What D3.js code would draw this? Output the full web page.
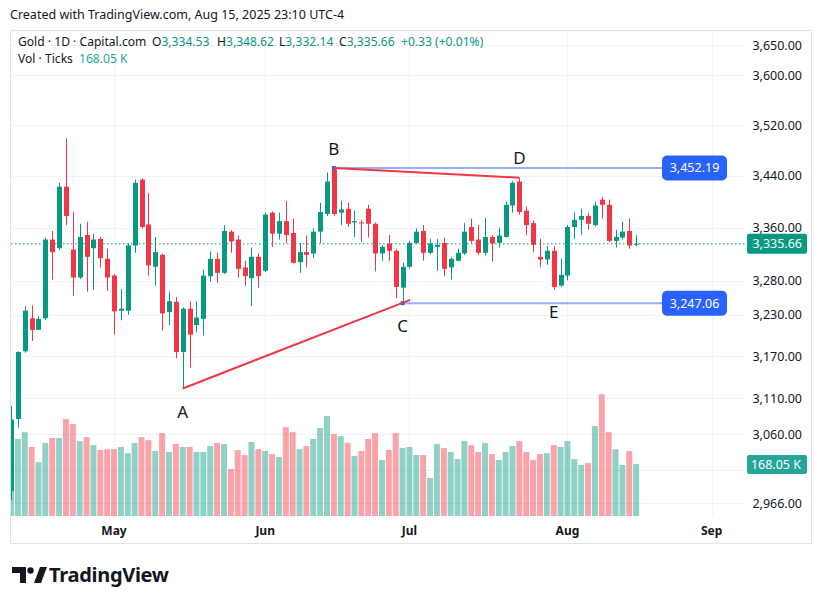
<!DOCTYPE html>
<html><head><meta charset="utf-8">
<script src="https://cdn.jsdelivr.net/npm/d3@7"></script>
<style>body{margin:0;background:#fff;font-family:"Noto Sans",sans-serif}</style>
</head><body><svg id="c" width="822" height="604"></svg>
<script>
const open  = [2982,3081,3177,3225,3208,3225,3342,3329,3423,3327,3285,3349,3329,3343,3313,3288,3236,3236,3333,3434,3365,3301,3319,3234,3249,3176,3239,3215,3224,3287,3313,3292,3354,3342,3300,3284,3316,3295,3383,3351,3370,3352,3308,3323,3321,3354,3381,3450,3383,3389,3368,3368,3389,3366,3321,3336,3325,3270,3301,3337,3355,3322,3331,3337,3300,3310,3321,3361,3342,3322,3346,3337,3346,3394,3431,3386,3367,3316,3312,3325,3273,3288,3361,3372,3378,3364,3403,3395,3340,3345,3355,3334.53];
const high  = [3099,3177,3243,3244,3228,3345,3355,3429,3499,3384,3366,3369,3351,3346,3328,3290,3268,3336,3434,3436,3413,3346,3321,3264,3256,3241,3250,3250,3297,3324,3322,3364,3356,3348,3310,3330,3321,3383,3385,3383,3401,3374,3337,3348,3359,3398,3445,3452.19,3401,3398,3386,3372,3395,3368,3334,3349,3327,3307,3340,3359,3364,3343,3343,3345,3315,3328,3367,3374,3364,3375,3349,3360,3400,3432,3437,3392,3371,3343,3332,3332,3313,3364,3383,3389,3383,3400,3407,3403,3357,3369,3374,3348.62];
const low   = [2970,3069,3175,3192,3208,3222,3282,3326,3364,3258,3283,3264,3267,3300,3265,3201,3222,3230,3322,3359,3288,3273,3207,3215,3167,3124,3154,3205,3200,3279,3277,3290,3322,3285,3273,3243,3270,3293,3331,3342,3337,3306,3292,3300,3314,3337,3378,3378,3364,3361,3346,3339,3345,3294,3310,3310,3254,3247.06,3298,3335,3310,3320,3295,3287,3282,3309,3319,3337,3319,3318,3309,3330,3345,3383,3380,3349,3323,3300,3304,3267,3271,3281,3343,3349,3357,3362,3374,3338,3330,3342,3328,3332.14];
const close = [3080,3176,3236,3208,3224,3342,3323,3423,3378,3285,3346,3316,3342,3314,3285,3235,3239,3333,3429,3361,3303,3323,3232,3250,3176,3239,3201,3226,3288,3313,3292,3355,3339,3298,3287,3316,3287,3380,3351,3370,3349,3307,3323,3319,3354,3384,3431,3381,3388,3366,3370,3367,3366,3321,3331,3325,3271,3301,3337,3354,3322,3336,3334,3298,3313,3322,3354,3340,3322,3346,3336,3348,3395,3429,3384,3364,3334,3312,3325,3271,3289,3361,3372,3378,3366,3394,3395,3340,3346,3354,3333,3335.66];
const volume = [313,249,271,223,174,236,252,252,313,297,242,255,229,213,216,216,223,203,236,255,245,210,268,207,233,223,223,207,207,226,236,233,152,213,197,239,216,210,200,191,287,271,216,226,249,284,323,265,258,236,194,210,249,268,181,213,268,220,223,197,197,123,233,220,207,184,242,229,207,236,200,181,207,226,242,207,181,200,203,229,223,242,184,165,171,291,394,271,216,165,210,168.05];
const priceTicks = [3650,3600,3520,3440,3360,3280,3230,3170,3110,3060,3010,2966];
const monthLabels = ["May","Jun","Jul","Aug","Sep"];
const monthIndex = [15,37,58,81,102];
const trendA_C = [[25,3124],[58.1,3252]];
const trendB_D = [[47,3452.19],[74,3437]];
const levels = [[47,3452.19],[57,3247.06]];
const pointLabels = [["A",25,3124,24],["B",47,3452.19,-13],["C",57,3247.06,23],["D",74,3437,-14],["E",79,3267,22]];

const UP="#089981", DN="#f23645";
const svg=d3.select("#c");
const x=d3.scaleLinear().domain([0,102]).range([11,711.7]);
const y=d3.scaleLog().domain([2966,3650]).range([503,45]);
const vy=d3.scaleLinear().domain([0,168.05]).range([516,464]);
const fmt=d3.format(",.2f");

svg.append("rect").attr("x",10.5).attr("y",30.5).attr("width",801).attr("height",513).attr("fill","none").attr("stroke","#e0e3eb");
svg.append("text").attr("x",10).attr("y",19).attr("font-size",12.5).attr("fill","#131722").text("Created with TradingView.com, Aug 15, 2025 23:10 UTC-4");

svg.append("defs").append("clipPath").attr("id","cp").append("rect").attr("x",11).attr("y",31).attr("width",734).attr("height",485);
const g=svg.append("g");
g.selectAll(".hg").data(priceTicks).join("line").attr("x1",11).attr("x2",745).attr("y1",d=>Math.round(y(d))+0.5).attr("y2",d=>Math.round(y(d))+0.5).attr("stroke","#f0f3fa");
g.selectAll(".vg").data(monthIndex).join("line").attr("x1",d=>Math.round(x(d))+0.5).attr("x2",d=>Math.round(x(d))+0.5).attr("y1",31).attr("y2",516).attr("stroke","#f0f3fa");

const c=svg.append("g").attr("clip-path","url(#cp)");
const idx=d3.range(open.length);
c.selectAll(".v").data(idx).join("rect").attr("x",i=>x(i)-3).attr("width",6).attr("y",i=>vy(volume[i])).attr("height",i=>516-vy(volume[i]))
 .attr("fill",i=>close[i]>=open[i]?"rgba(8,153,129,0.45)":"rgba(242,54,69,0.45)");
c.selectAll(".w").data(idx).join("line").attr("x1",i=>Math.round(x(i))+0.5).attr("x2",i=>Math.round(x(i))+0.5)
 .attr("y1",i=>y(high[i])).attr("y2",i=>y(low[i])).attr("stroke",i=>close[i]>=open[i]?UP:DN);
c.selectAll(".b").data(idx).join("rect").attr("x",i=>Math.round(x(i))-2).attr("width",5)
 .attr("y",i=>y(Math.max(open[i],close[i]))).attr("height",i=>Math.max(1,y(Math.min(open[i],close[i]))-y(Math.max(open[i],close[i]))))
 .attr("fill",i=>close[i]>=open[i]?UP:DN);

const last=close[close.length-1];
svg.append("line").attr("x1",11).attr("x2",745).attr("y1",y(last)).attr("y2",y(last)).attr("stroke",UP).attr("stroke-dasharray","1.5,2.5");

levels.forEach(([i,p])=>{
  svg.append("line").attr("x1",x(i)).attr("x2",662).attr("y1",y(p)).attr("y2",y(p)).attr("stroke","#2962ff").attr("stroke-opacity",0.5).attr("stroke-width",2);
  svg.append("rect").attr("x",x(i)-2).attr("y",y(p)-2).attr("width",4).attr("height",4).attr("fill","#2962ff");
  svg.append("rect").attr("x",662).attr("y",y(p)-12.5).attr("width",65).attr("height",25).attr("rx",5).attr("fill","#2962ff");
  svg.append("text").attr("x",694.5).attr("y",y(p)+4.5).attr("text-anchor","middle").attr("font-size",12.5).attr("fill","#fff").text(fmt(p));
});
[trendA_C,trendB_D].forEach(t=>{
  svg.append("line").attr("x1",x(t[0][0])).attr("y1",y(t[0][1])).attr("x2",x(t[1][0])).attr("y2",y(t[1][1])).attr("stroke",DN).attr("stroke-width",2);
});
pointLabels.forEach(([s,i,p,dy])=>{
  svg.append("text").attr("x",x(i)).attr("y",y(p)+dy+(dy>0?6:0)).attr("text-anchor","middle").attr("font-size",17).attr("fill","#131722").text(s);
});

svg.selectAll(".pt").data(priceTicks.filter(d=>d!==3010)).join("text").attr("x",802).attr("y",d=>y(d)+4.5).attr("text-anchor","end").attr("font-size",12.5).attr("fill","#131722").text(d=>fmt(d));
svg.append("rect").attr("x",747).attr("y",y(last)-10).attr("width",60).attr("height",20).attr("rx",2).attr("fill",UP);
svg.append("text").attr("x",802).attr("y",y(last)+4.5).attr("text-anchor","end").attr("font-size",12.5).attr("fill","#fff").text(fmt(last));
svg.append("rect").attr("x",747).attr("y",vy(volume[volume.length-1])-9).attr("width",60).attr("height",19).attr("rx",2).attr("fill","#26a69a");
svg.append("text").attr("x",801).attr("y",vy(volume[volume.length-1])+5).attr("text-anchor","end").attr("font-size",12.5).attr("fill","#fff").text("168.05 K");

svg.selectAll(".mt").data(monthIndex).join("text").attr("x",d=>x(d)).attr("y",535).attr("text-anchor","middle").attr("font-size",12).attr("font-weight","bold").attr("fill","#131722").text((d,k)=>monthLabels[k]);

const lg=svg.append("text").attr("y",46).attr("font-size",12.1).attr("fill","#131722");
lg.append("tspan").attr("x",18).text("Gold · 1D · Capital.com");
lg.append("tspan").attr("x",152).text("O"); lg.append("tspan").attr("fill",UP).text(fmt(open[91]));
lg.append("tspan").attr("x",217).text("H"); lg.append("tspan").attr("fill",UP).text(fmt(high[91]));
lg.append("tspan").attr("x",279).text("L"); lg.append("tspan").attr("fill",UP).text(fmt(low[91]));
lg.append("tspan").attr("x",339).text("C"); lg.append("tspan").attr("fill",UP).text(fmt(last));
lg.append("tspan").attr("x",401).attr("fill",UP).text("+0.33 (+0.01%)");
const lv=svg.append("text").attr("y",63).attr("font-size",12.1).attr("fill","#131722");
lv.append("tspan").attr("x",18).text("Vol · Ticks"); lv.append("tspan").attr("x",79).attr("fill","#22ab94").text("168.05 K");

svg.append("path").attr("d","M12 567 h14 v16 h-6 v-10 h-8 z M34 583 l6 -16 h7 l-6 16 z").attr("fill","#131722");
svg.append("circle").attr("cx",30.5).attr("cy",570.5).attr("r",3.2).attr("fill","#131722");
svg.append("text").attr("x",49).attr("y",582).attr("font-size",20).attr("font-weight","bold").attr("fill","#131722").attr("letter-spacing","-0.3").text("TradingView");
</script></body></html>
